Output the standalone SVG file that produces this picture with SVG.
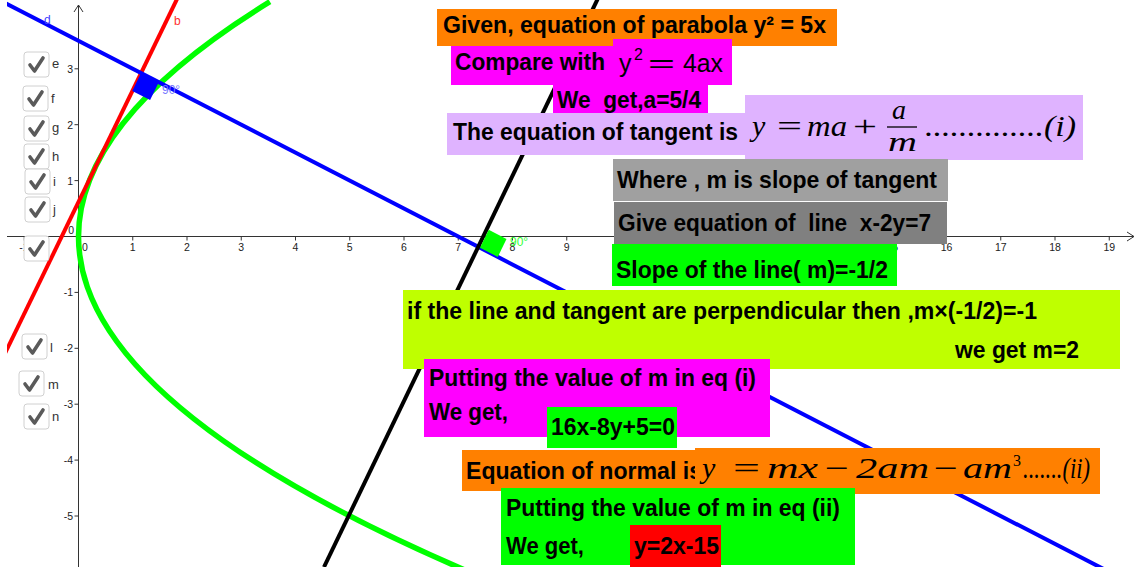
<svg xmlns="http://www.w3.org/2000/svg" width="1136" height="567" viewBox="0 0 1136 567">
<defs>
<style>
.ax{stroke:#333;stroke-width:1;fill:none}
.tl{font-family:"Liberation Sans",Arial,sans-serif;font-size:10.5px;fill:#222}
.cb{fill:#fff;stroke:#d0d0d0;stroke-width:1}
.ck{fill:none;stroke:#5a5a5a;stroke-width:3.6;stroke-linecap:round;stroke-linejoin:round}
.cl{font-family:"Liberation Sans",Arial,sans-serif;font-size:13px;fill:#333}
.t{font-family:"Liberation Sans",Arial,sans-serif;font-weight:bold;font-size:24px;fill:#000;white-space:pre}
.m{font-family:"Liberation Serif","DejaVu Serif",serif;font-style:italic;font-size:30px;fill:#000}
.mu{font-family:"Liberation Serif","DejaVu Serif",serif;font-size:30px;fill:#000}
.ms{font-family:"Liberation Sans",Arial,sans-serif;font-size:25px;fill:#000}
</style>
<clipPath id="view"><rect x="7" y="0" width="1129" height="567"/></clipPath>
</defs>
<rect width="1136" height="567" fill="#fff"/>

<g id="axes">
<line class="ax" x1="7" y1="236.5" x2="1134" y2="236.5"/>
<polyline class="ax" points="1127,232 1134,236.5 1127,241"/>
<line class="ax" x1="78.5" y1="5" x2="78.5" y2="567"/>
<polyline class="ax" points="74,12 78.5,5 83,12"/>
<g class="ax">
<path d="M24.25 236.5v4M132.75 236.5v4M187 236.5v4M241.25 236.5v4M295.5 236.5v4M349.75 236.5v4M404 236.5v4M458.25 236.5v4M512.5 236.5v4M566.75 236.5v4M621 236.5v4M675.25 236.5v4M729.5 236.5v4M783.75 236.5v4M838 236.5v4M892.25 236.5v4M946.5 236.5v4M1000.75 236.5v4M1055 236.5v4M1109.25 236.5v4"/>
<path d="M74.5 68.8h4M74.5 124.7h4M74.5 180.6h4M74.5 292.4h4M74.5 348.3h4M74.5 404.2h4M74.5 460.1h4M74.5 516h4"/>
</g>
<g class="tl" text-anchor="middle">
<text x="24" y="251">-1</text>
<text x="85" y="251">0</text>
<text x="132.75" y="251">1</text>
<text x="187" y="251">2</text>
<text x="241.25" y="251">3</text>
<text x="295.5" y="251">4</text>
<text x="349.75" y="251">5</text>
<text x="404" y="251">6</text>
<text x="458.25" y="251">7</text>
<text x="512.5" y="251">8</text>
<text x="566.75" y="251">9</text>
<text x="621" y="251">10</text>
<text x="675.25" y="251">11</text>
<text x="729.5" y="251">12</text>
<text x="783.75" y="251">13</text>
<text x="838" y="251">14</text>
<text x="892.25" y="251">15</text>
<text x="946.5" y="251">16</text>
<text x="1000.75" y="251">17</text>
<text x="1055" y="251">18</text>
<text x="1109.25" y="251">19</text>
</g>
<g class="tl" text-anchor="end">
<text x="73" y="72.5">3</text>
<text x="73" y="128.5">2</text>
<text x="73" y="184.5">1</text>
<text x="74" y="234">0</text>
<text x="73" y="296">-1</text>
<text x="73" y="352">-2</text>
<text x="73" y="408">-3</text>
<text x="73" y="464">-4</text>
<text x="73" y="520">-5</text>
</g>
</g>

<g id="connectors" clip-path="url(#view)" fill="none" stroke-linecap="butt">
<path id="parabola" d="M469.1 571.9 Q-194.9 286.8 269.9 1.7" stroke="#00ff00" stroke-width="5.5"/>
<line id="line-b" x1="181.4" y1="-10" x2="-98.7" y2="567" stroke="#ff0000" stroke-width="4"/>
<line id="line-d" x1="0" y1="0.4" x2="1136" y2="585.7" stroke="#0000ff" stroke-width="4"/>
<line id="line-normal" x1="602" y1="-10" x2="324" y2="567" stroke="#000" stroke-width="4"/>
<polygon id="angle-blue" points="141,73 158.8,82.2 150.1,100.1 132.3,91" fill="#0000ff"/>
<polygon id="angle-green" points="480,247.7 488.7,229.7 506.5,238.9 497.8,256.9" fill="#00ff00"/>
</g>
<g id="graph-labels" font-family="Liberation Sans,Arial,sans-serif" font-size="12">
<text x="44" y="24" fill="#4040ff">d</text>
<text x="174" y="25" fill="#ff3030">b</text>
<text x="162" y="94" fill="#7777ff">90°</text>
<text x="510" y="246" fill="#33ff33">90°</text>
</g>

<g id="checkboxes">
<g id="cb-e"><rect class="cb" x="24" y="52" width="25" height="25" rx="3"/><polyline class="ck" points="30,65 34.5,71 43,58"/><text class="cl" x="52" y="68">e</text></g>
<g id="cb-f"><rect class="cb" x="23" y="86" width="25" height="25" rx="3"/><polyline class="ck" points="29,99 33.5,105 42,92"/><text class="cl" x="51" y="103">f</text></g>
<g id="cb-g"><rect class="cb" x="24" y="116" width="25" height="25" rx="3"/><polyline class="ck" points="30,129 34.5,135 43,122"/><text class="cl" x="52" y="132">g</text></g>
<g id="cb-h"><rect class="cb" x="24" y="144" width="25" height="25" rx="3"/><polyline class="ck" points="30,157 34.5,163 43,150"/><text class="cl" x="52" y="161">h</text></g>
<g id="cb-i"><rect class="cb" x="25" y="169" width="25" height="25" rx="3"/><polyline class="ck" points="31,182 35.5,188 44,175"/><text class="cl" x="53" y="186">i</text></g>
<g id="cb-j"><rect class="cb" x="25" y="197" width="25" height="25" rx="3"/><polyline class="ck" points="31,210 35.5,216 44,203"/><text class="cl" x="53" y="214">j</text></g>
<g id="cb-k"><rect class="cb" x="24" y="236" width="25" height="25" rx="3"/><polyline class="ck" points="30,249 34.5,255 43,242"/></g>
<g id="cb-l"><rect class="cb" x="22" y="334" width="25" height="25" rx="3"/><polyline class="ck" points="28,347 32.5,353 41,340"/><text class="cl" x="50" y="352">l</text></g>
<g id="cb-m"><rect class="cb" x="19" y="371" width="25" height="25" rx="3"/><polyline class="ck" points="25,384 29.5,390 38,377"/><text class="cl" x="48" y="389">m</text></g>
<g id="cb-n"><rect class="cb" x="24" y="404" width="25" height="25" rx="3"/><polyline class="ck" points="30,417 34.5,423 43,410"/><text class="cl" x="52" y="421">n</text></g>
</g>

<g id="box-given">
<rect x="437" y="9" width="400" height="37" fill="#ff8000"/>
<text class="t" x="443" y="33" textLength="383" lengthAdjust="spacingAndGlyphs">Given, equation of parabola y² = 5x</text>
</g>
<g id="box-compare">
<rect x="451" y="46" width="163" height="39" fill="#ff00ff"/>
<rect x="613" y="39" width="119" height="46" fill="#ff00ff"/>
<text class="t" x="455" y="70" textLength="150" lengthAdjust="spacingAndGlyphs">Compare with</text>
<text class="ms" x="619" y="72">y</text>
<text class="ms" x="634" y="60" style="font-size:16px">2</text>
<text class="ms" x="648" y="72" textLength="27" lengthAdjust="spacingAndGlyphs">=</text>
<text class="ms" x="683" y="72" textLength="40" lengthAdjust="spacingAndGlyphs">4ax</text>
</g>
<g id="box-a">
<rect x="553" y="85" width="155" height="28" fill="#ff00ff"/>
<text class="t" x="557" y="108" textLength="144" lengthAdjust="spacingAndGlyphs">We  get,a=5/4</text>
</g>
<g id="box-tangent">
<rect x="447" y="113" width="300" height="42" fill="#dfb3ff"/>
<rect x="745" y="95" width="338" height="65" fill="#dfb3ff"/>
<text class="t" x="453" y="140" textLength="285" lengthAdjust="spacingAndGlyphs">The equation of tangent is</text>
<text class="m" x="752" y="136">y</text>
<text class="mu" x="777" y="136" textLength="25" lengthAdjust="spacingAndGlyphs">=</text>
<text class="m" x="807" y="136" textLength="40" lengthAdjust="spacingAndGlyphs">ma</text>
<text class="mu" x="853" y="136" textLength="24" lengthAdjust="spacingAndGlyphs">+</text>
<text class="m" x="892" y="119" style="font-size:28px">a</text>
<line x1="887" y1="127" x2="917" y2="127" stroke="#000" stroke-width="1.3"/>
<text class="m" x="888" y="151" style="font-size:28px" textLength="29" lengthAdjust="spacingAndGlyphs">m</text>
<text class="m" x="925" y="136" textLength="151" lengthAdjust="spacingAndGlyphs">..............(i)</text>
</g>
<g id="box-where">
<rect x="613" y="159" width="335" height="42" fill="#a0a0a0"/>
<text class="t" x="617" y="188" textLength="320" lengthAdjust="spacingAndGlyphs">Where , m is slope of tangent</text>
</g>
<g id="box-line">
<rect x="614" y="202" width="333" height="42" fill="#808080"/>
<text class="t" x="618" y="231" textLength="313" lengthAdjust="spacingAndGlyphs">Give equation of  line  x-2y=7</text>
</g>
<g id="box-slope">
<rect x="612" y="244" width="285" height="42" fill="#00ff00"/>
<text class="t" x="616" y="278" textLength="272" lengthAdjust="spacingAndGlyphs">Slope of the line( m)=-1/2</text>
</g>
<g id="box-perp">
<rect x="403" y="290" width="717" height="79" fill="#bfff00"/>
<text class="t" x="407" y="319" textLength="630" lengthAdjust="spacingAndGlyphs">if the line and tangent are perpendicular then ,m×(-1/2)=-1</text>
<text class="t" x="955" y="358" textLength="124" lengthAdjust="spacingAndGlyphs">we get m=2</text>
</g>
<g id="box-put1">
<rect x="424" y="359" width="346" height="78" fill="#ff00ff"/>
<text class="t" x="429" y="386" textLength="327" lengthAdjust="spacingAndGlyphs">Putting the value of m in eq (i)</text>
<text class="t" x="429" y="420" textLength="79" lengthAdjust="spacingAndGlyphs">We get,</text>
</g>
<g id="box-result1">
<rect x="547" y="407" width="130" height="41" fill="#00ff00"/>
<text class="t" x="551" y="435" textLength="124" lengthAdjust="spacingAndGlyphs">16x-8y+5=0</text>
</g>
<g id="box-normal">
<rect x="462" y="450" width="240" height="41" fill="#ff8000"/>
<text class="t" x="466" y="479" textLength="236" lengthAdjust="spacingAndGlyphs">Equation of normal is</text>
<rect x="695" y="448" width="405" height="46" fill="#ff8000"/>
<text class="m" x="702" y="478">y</text>
<text class="mu" x="733" y="478" textLength="27" lengthAdjust="spacingAndGlyphs">=</text>
<text class="m" x="767" y="478" textLength="51" lengthAdjust="spacingAndGlyphs">mx</text>
<text class="mu" x="825" y="478" textLength="24" lengthAdjust="spacingAndGlyphs">−</text>
<text class="m" x="856" y="478" textLength="73" lengthAdjust="spacingAndGlyphs">2am</text>
<text class="mu" x="934" y="478" textLength="24" lengthAdjust="spacingAndGlyphs">−</text>
<text class="m" x="963" y="478" textLength="49" lengthAdjust="spacingAndGlyphs">am</text>
<text class="mu" x="1013" y="466" style="font-size:16px">3</text>
<text class="m" x="1023" y="478" textLength="67" lengthAdjust="spacingAndGlyphs">.......(ii)</text>
</g>
<g id="box-put2">
<rect x="501" y="488" width="354" height="77" fill="#00ff00"/>
<text class="t" x="506" y="516" textLength="334" lengthAdjust="spacingAndGlyphs">Putting the value of m in eq (ii)</text>
<text class="t" x="506" y="554" textLength="78" lengthAdjust="spacingAndGlyphs">We get,</text>
</g>
<g id="box-result2">
<rect x="630" y="525" width="91" height="42" fill="#ff0000"/>
<text class="t" x="634" y="554" textLength="85" lengthAdjust="spacingAndGlyphs">y=2x-15</text>
</g>
</svg>
